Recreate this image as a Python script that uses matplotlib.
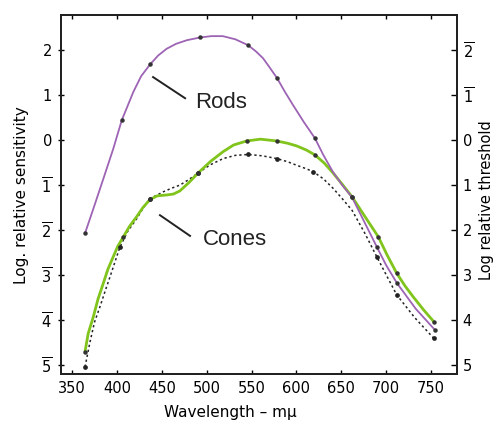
import matplotlib
matplotlib.use("Agg")
import matplotlib.pyplot as plt

# ---- data ----
rod_wl = [364.5, 373.7, 384.9, 396.0, 405.4, 418.3, 427, 436.9, 446, 455.5, 466, 478,
          492.6, 505, 518, 532, 546.1, 555, 562.8, 570, 578.4, 587, 596.2, 608,
          620.7, 630, 640.8, 651, 662.0, 676, 689.8, 700, 712.1, 733, 754.4]
rod_val = [-2.07, -1.53, -0.86, -0.19, 0.44, 1.07, 1.42, 1.68, 1.88, 2.03, 2.14, 2.22,
           2.28, 2.31, 2.31, 2.24, 2.11, 1.97, 1.82, 1.62, 1.38, 1.08, 0.78, 0.41,
           0.04, -0.33, -0.71, -1.00, -1.27, -1.83, -2.38, -2.78, -3.18, -3.75, -4.22]
rod_pt_wl = [364.5, 405.4, 436.9, 492.6, 546.1, 578.4, 620.7, 662.0, 689.8, 712.1, 754.4]
rod_pt_val = [-2.07, 0.44, 1.68, 2.28, 2.11, 1.38, 0.04, -1.27, -2.38, -3.18, -4.22]

cone_wl = [364.5, 368, 373.7, 379, 384.9, 390, 396.0, 401, 407.2, 414, 422.1, 429,
           436.9, 445, 455.5, 463, 470.2, 480, 490.6, 504, 518.2, 530, 544.6, 560,
           578.0, 590, 600.3, 611, 620.7, 631, 640.8, 651, 662.0, 676.4, 691.3, 701,
           711.8, 721, 730.0, 742, 753.3]
cone_val = [-4.70, -4.30, -3.93, -3.53, -3.18, -2.87, -2.59, -2.36, -2.15, -1.92, -1.70, -1.50,
            -1.32, -1.24, -1.22, -1.20, -1.13, -0.95, -0.73, -0.48, -0.26, -0.11, -0.02, 0.02,
            -0.02, -0.07, -0.13, -0.22, -0.33, -0.51, -0.73, -0.98, -1.26, -1.70, -2.15, -2.55,
            -2.96, -3.24, -3.48, -3.78, -4.04]
cone_pt_wl = [364.5, 407.2, 436.9, 490.6, 544.6, 578.0, 620.7, 662.0, 691.3, 711.8, 753.3]
cone_pt_val = [-4.70, -2.15, -1.32, -0.73, -0.02, -0.02, -0.33, -1.26, -2.15, -2.96, -4.04]

thr_wl = [364.5, 370.1, 375, 381.2, 387, 392.3, 398, 403.5, 412, 422.0, 429, 436.9,
          445, 451.7, 461, 470.3, 480, 490.7, 504, 518.6, 532, 546.4, 562, 578.0,
          590, 600.3, 610, 618.5, 630, 640.8, 651, 662.0, 676, 689.5, 701, 711.8,
          732, 753.3]
thr_val = [-5.04, -4.48, -4.05, -3.70, -3.35, -3.04, -2.70, -2.37, -2.03, -1.75, -1.52, -1.30,
           -1.22, -1.15, -1.07, -1.00, -0.88, -0.73, -0.55, -0.41, -0.34, -0.32, -0.35, -0.41,
           -0.48, -0.56, -0.63, -0.70, -0.86, -1.07, -1.30, -1.56, -2.06, -2.59, -3.03, -3.44,
           -3.95, -4.41]
thr_pt_wl = [364.5, 403.5, 436.9, 490.7, 546.4, 578.0, 618.5, 689.5, 711.8, 753.3]
thr_pt_val = [-5.04, -2.37, -1.30, -0.73, -0.32, -0.41, -0.70, -2.59, -3.44, -4.41]

x_ticks = [350, 400, 450, 500, 550, 600, 650, 700, 750]
y_ticks = [2, 1, 0, -1, -2, -3, -4, -5]
left_labels = ["2", "1", "0", r"$\overline{1}$", r"$\overline{2}$",
               r"$\overline{3}$", r"$\overline{4}$", r"$\overline{5}$"]
right_labels = [r"$\overline{2}$", r"$\overline{1}$", "0", "1", "2", "3", "4", "5"]

plt.rcParams['font.family'] = ['DejaVu Sans']
plt.rcParams['mathtext.fontset'] = 'dejavusans'

fig = plt.figure(figsize=(4.96, 4.26), dpi=100)
ax = fig.add_axes([61/496, 1-374/426, (457-61)/496, (374-15)/426])

purple = "#9d63b4"
green = "#80c41c"
ink = "#222222"

ax.plot(thr_wl, thr_val, color=ink, lw=1.1, ls=(0, (1.5, 1.8)), zorder=2)
ax.plot(thr_pt_wl, thr_pt_val, ls="none", marker="o", ms=2.4, color=ink, zorder=5)
ax.plot(cone_wl, cone_val, color=green, lw=2.0, solid_capstyle="round",
        solid_joinstyle="round", zorder=3)
ax.plot(cone_pt_wl, cone_pt_val, ls="none", marker="o", ms=2.2, color="#333333", zorder=5)
ax.plot(rod_wl, rod_val, color=purple, lw=1.3, solid_joinstyle="round", zorder=4)
ax.plot(rod_pt_wl, rod_pt_val, ls="none", marker="o", ms=2.2, color="#333333", zorder=5)

ax.set_xlim(337.7, 779)
ax.set_ylim(-5.2, 2.78)

ax.set_xticks(x_ticks)
ax.set_xticklabels([str(v) for v in x_ticks], fontsize=10.5)
ax.set_yticks(y_ticks)
ax.set_yticklabels(left_labels, fontsize=10.5)
ax.tick_params(axis="x", direction="in", length=3, top=True, pad=5, width=1)
ax.tick_params(axis="y", direction="inout", length=5, pad=4, width=1)

ax2 = ax.twinx()
ax2.set_ylim(ax.get_ylim())
ax2.set_yticks(y_ticks)
ax2.set_yticklabels(right_labels, fontsize=10.5)
ax2.tick_params(axis="y", direction="in", length=4, pad=4, width=1)

for a in (ax, ax2):
    for s in a.spines.values():
        s.set_linewidth(1.4)
        s.set_color(ink)

fig.text(22/496, 1-195/426, "Log. relative sensitivity", fontsize=11,
         rotation=90, ha="center", va="center")
fig.text(486/496, 1-200/426, "Log relative threshold", fontsize=10.5,
         rotation=90, ha="center", va="center")
fig.text(230/496, 1-412/426, "Wavelength \u2013 m\u03bc", fontsize=11,
         ha="center", va="center")

ax.plot([440.3, 476.0], [1.40, 0.93], color=ink, lw=1.4)
ax.text(487, 0.84, "Rods", fontsize=16, va="center", ha="left",
        family="Liberation Sans", color=ink)
ax.plot([448.0, 481.5], [-1.67, -2.13], color=ink, lw=1.4)
ax.text(496, -2.22, "Cones", fontsize=16, va="center", ha="left",
        family="Liberation Sans", color=ink)

fig.savefig("out.png", dpi=100)
